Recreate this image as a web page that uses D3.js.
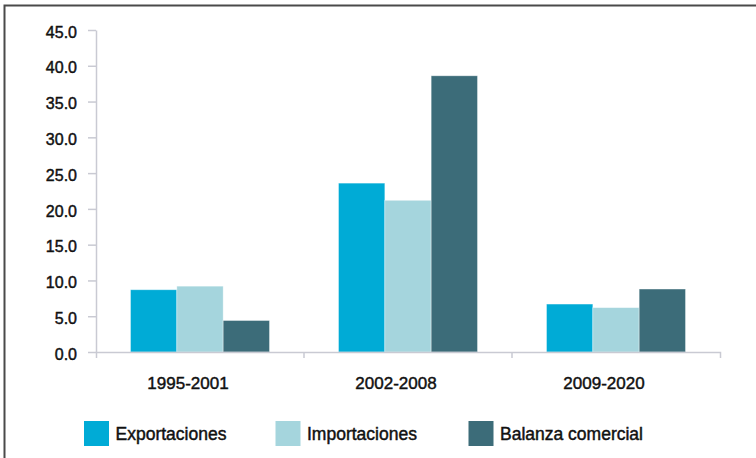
<!DOCTYPE html>
<html>
<head>
<meta charset="utf-8">
<script src="https://cdn.jsdelivr.net/npm/d3@7"></script>
<style>
  html, body { margin: 0; padding: 0; background: #fff; }
  svg { display: block; }
  text { font-family: "Liberation Sans", Arial, Helvetica, sans-serif; fill: #111; stroke: #111; stroke-width: 0.45px; }
</style>
</head>
<body>
<svg id="chart" width="756" height="458"></svg>
<script>
const categories = ["1995-2001", "2002-2008", "2009-2020"];
const seriesNames = ["Exportaciones", "Importaciones", "Balanza comercial"];
const exportaciones = [8.7, 23.6, 6.7];
const importaciones = [9.2, 21.2, 6.2];
const balanza = [4.4, 38.6, 8.8];
const yTicks = [0, 5, 10, 15, 20, 25, 30, 35, 40, 45];
const colors = ["#00abd6", "#a5d5dd", "#3c6c79"];

const seriesValues = [exportaciones, importaciones, balanza];
const svg = d3.select("#chart");

// frame
svg.append("path")
  .attr("d", "M4.5,458 L4.5,5.5 L756,5.5")
  .attr("fill", "none")
  .attr("stroke", "#4a4a4a")
  .attr("stroke-width", 2);

const y = d3.scaleLinear().domain([0, 45]).range([352, 30]);
const x = d3.scaleBand().domain(categories).range([96, 720]).paddingInner(0).paddingOuter(0);
const xSub = d3.scaleBand().domain(seriesNames).range([0, x.bandwidth()]).paddingInner(0).paddingOuter(0.745);
const color = d3.scaleOrdinal().domain(seriesNames).range(colors);

const axisColor = "#c9cad3";

// bars
const rows = categories.map((c, i) => ({ cat: c, vals: seriesNames.map((s, j) => ({ s, v: seriesValues[j][i] })) }));
const g = svg.append("g").selectAll("g").data(rows).join("g")
  .attr("transform", d => `translate(${x(d.cat)},0)`);
g.selectAll("rect").data(d => d.vals).join("rect")
  .attr("x", d => xSub(d.s))
  .attr("width", xSub.bandwidth())
  .attr("y", d => y(d.v))
  .attr("height", d => y(0) - y(d.v))
  .attr("fill", d => color(d.s))
  .attr("stroke", "#ffffff")
  .attr("stroke-opacity", 0.45)
  .attr("stroke-width", 0.8);

// y axis
const yAxis = svg.append("g")
  .attr("transform", "translate(96,0)")
  .call(d3.axisLeft(y).tickValues(yTicks).tickFormat(d3.format(".1f")).tickSize(8).tickSizeOuter(0).tickPadding(11));
yAxis.selectAll("path, line").attr("stroke", axisColor).attr("stroke-width", 1.5);
yAxis.selectAll("text")
  .attr("dy", "0.45em")
  .style("font-size", "16px")
  .style("font-family", "'Liberation Sans', Arial, sans-serif")
  .attr("fill", "#111");

// x axis
const xAxis = svg.append("g")
  .attr("transform", "translate(0,352)")
  .call(d3.axisBottom(x).tickSize(0).tickSizeOuter(6).tickPadding(25));
xAxis.selectAll("path").attr("stroke", axisColor).attr("stroke-width", 1.5);
xAxis.selectAll("text")
  .attr("dx", -12)
  .style("font-size", "17px")
  .style("font-family", "'Liberation Sans', Arial, sans-serif")
  .attr("fill", "#111");
// boundary ticks between categories
xAxis.selectAll("line.bound").data(categories.slice(1)).join("line")
  .attr("class", "bound")
  .attr("x1", d => x(d)).attr("x2", d => x(d))
  .attr("y1", 0).attr("y2", 6)
  .attr("stroke", axisColor).attr("stroke-width", 1.5);

// legend
const legendX = [84, 275.5, 468.5];
const legend = svg.append("g").selectAll("g").data(seriesNames).join("g")
  .attr("transform", (d, i) => `translate(${legendX[i]},421)`);
legend.append("rect").attr("width", 25).attr("height", 25).attr("fill", d => color(d));
legend.append("text")
  .attr("x", 31.5).attr("y", 19)
  .style("font-size", "17.5px")
  .text(d => d);
</script>
</body>
</html>
